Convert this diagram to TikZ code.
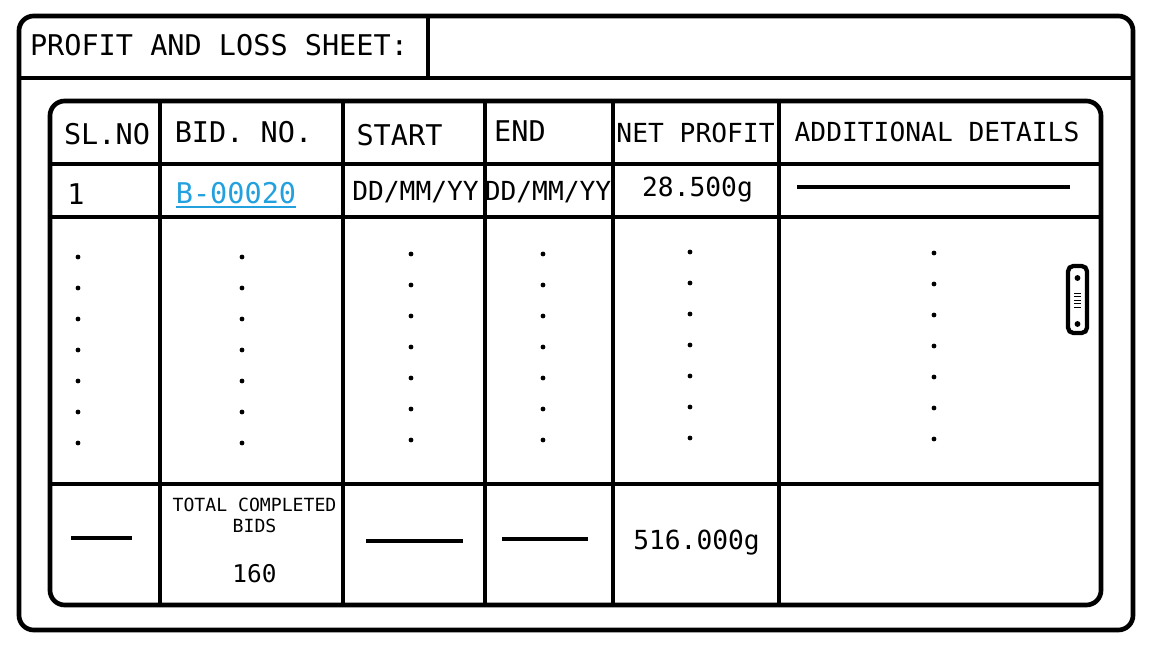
\documentclass[tikz,border=0pt]{standalone}
\usepackage{fontspec}
\setmonofont{DejaVu Sans Mono}
\tikzset{
  frameline/.style={line width=3.5pt, rounded corners=11pt},
  gridline/.style={line width=3.5pt},
  dashline/.style={line width=2.4pt},
  cellbig/.style={inner sep=0pt, anchor=base, font=\ttfamily\fontsize{21.4}{24}\selectfont},
  cellmid/.style={inner sep=0pt, anchor=base, font=\ttfamily\fontsize{19.7}{22}\selectfont},
  cellsmall/.style={inner sep=0pt, anchor=base, font=\ttfamily\fontsize{13.6}{16}\selectfont}
}
\begin{document}
\begin{tikzpicture}[x=0.75pt, y=-0.75pt]
            \definecolor{Linkcolor}{RGB}{35, 160, 222}
            \def\dotradius{1.8pt}
            \useasboundingbox (0,0) rectangle (1152,648);
            % outer sheet with title bar
            \draw[frameline] (19,16) rectangle (1133,630);
            \draw[gridline] (19,78) -- (1133,78);
            \draw[gridline] (428,16) -- (428,78);
            \node[cellbig] (title) at (219,56) {PROFIT AND LOSS SHEET:};
            % table
            \draw[frameline] (50,101) rectangle (1101,605);
            \draw[gridline] (50,164) -- (1103,164);
            \draw[gridline] (50,217) -- (1103,217);
            \draw[gridline] (50,484) -- (1103,484);
            \draw[gridline] (160,101) -- (160,605);
            \draw[gridline] (343,101) -- (343,605);
            \draw[gridline] (485,101) -- (485,605);
            \draw[gridline] (613,101) -- (613,605);
            \draw[gridline] (779,101) -- (779,605);
            % header row
            \node[cellbig] (hslno) at (107,145) {SL.NO};
            \node[cellbig] (hbid) at (243.5,143) {BID. NO.};
            \node[cellbig] (hstart) at (399.5,146) {START};
            \node[cellbig] (hend) at (520,142) {END};
            \node[cellmid] (hprofit) at (695.5,143) {NET PROFIT};
            \node[cellmid] (hdetails) at (937,142) {ADDITIONAL DETAILS};
            % first row
            \node[cellbig] (slno1) at (76,205) {1};
            \node[cellbig, text=Linkcolor] (bid1) at (236,204) {B-00020};
            \draw[Linkcolor, line width=1.8pt] ([yshift=-2.4pt]bid1.base west) -- ([yshift=-2.4pt]bid1.base east);
            \node[cellmid] (start1) at (415.5,201) {DD/MM/YY};
            \node[cellmid] (end1) at (548,201) {DD/MM/YY};
            \node[cellmid] (profit1) at (697.5,197) {28.500g};
            \draw[dashline] (797,187) -- (1070,187);
            % more rows
            \foreach \x/\y in {78/257, 242/257, 411/254, 543/254, 690/252, 934/253}
              \foreach \k in {0,...,6}
                \fill (\x,\y+31*\k) circle (\dotradius);
            % scroll handle
            \draw[line width=3.2pt, rounded corners=4pt] (1068,266) rectangle (1087,333);
            \fill (1077.5,278) circle (2.2pt);
            \fill (1077.5,324) circle (2.2pt);
            \draw[line width=0.6pt] (1074,293) -- (1081,293);
            \draw[line width=0.6pt] (1074,296.5) -- (1081,296.5);
            \draw[line width=0.6pt] (1074,300) -- (1081,300);
            \draw[line width=0.6pt] (1074,303.5) -- (1081,303.5);
            \draw[line width=0.6pt] (1074,307) -- (1081,307);
            % totals row
            \draw[dashline] (71,538) -- (132,538);
            \node[cellsmall] (ttext) at (254.5,511) {TOTAL COMPLETED};
            \node[cellsmall] (tbids) at (254.5,532) {BIDS};
            \node[inner sep=0pt, anchor=base, font=\ttfamily\fontsize{18.3}{21}\selectfont] (tcount) at (254.5,582) {160};
            \draw[dashline] (366,541) -- (463,541);
            \draw[dashline] (502,539) -- (588,539);
            \node[cellmid] (tprofit) at (696.5,549) {516.000g};
        \end{tikzpicture}
\end{document}
